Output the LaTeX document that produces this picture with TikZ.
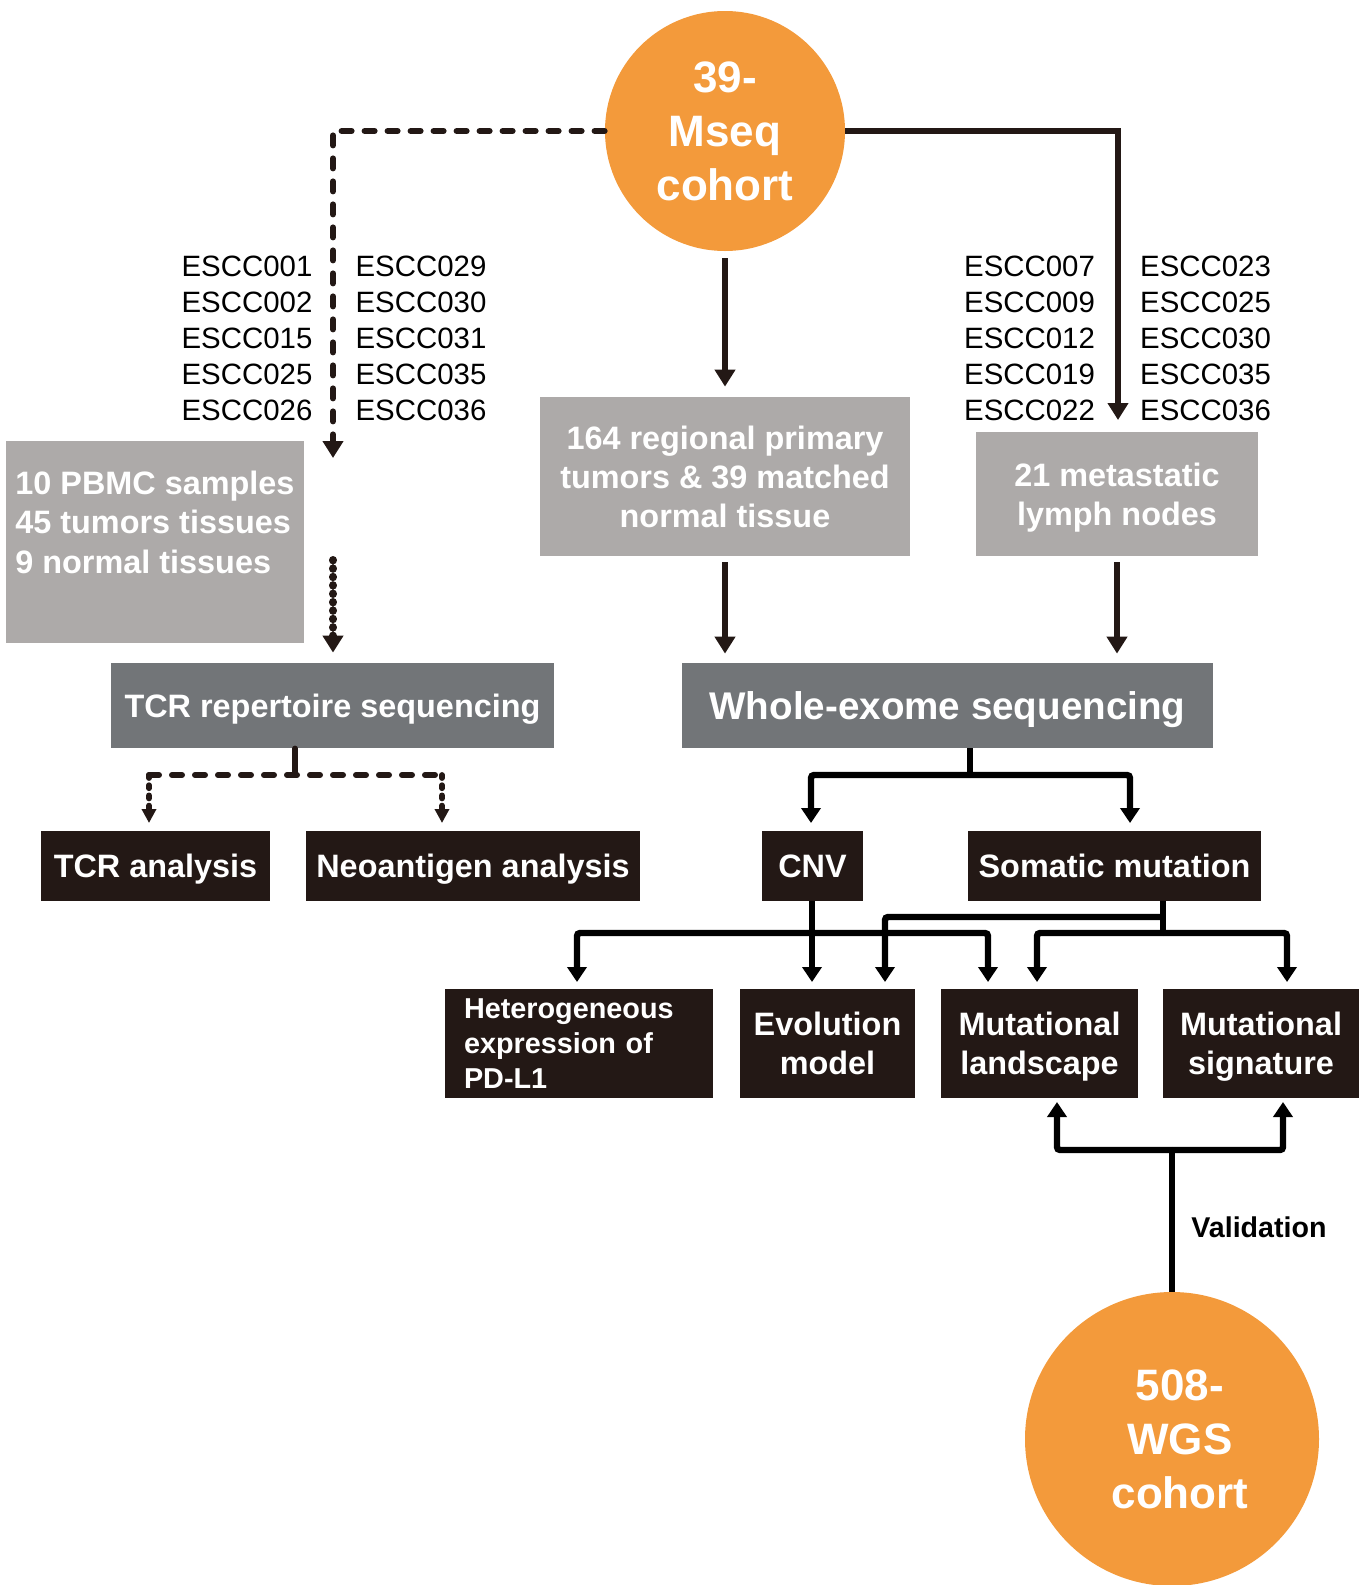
\documentclass[tikz,border=0pt]{standalone}
\usepackage{fontspec}
\setmainfont{Liberation Sans}
\usetikzlibrary{arrows.meta,calc}
\definecolor{orng}{HTML}{F39A3B}
\definecolor{lgray}{HTML}{ADAAA9}
\definecolor{dgray}{HTML}{727578}
\definecolor{dbox}{HTML}{231815}
\definecolor{linec}{HTML}{231815}
\begin{document}
\begin{tikzpicture}[x=0.5pt,y=-0.5pt,
  circ/.style={circle,fill=orng,text=white,inner sep=0pt,align=center,font=\bfseries\fontsize{22}{27}\selectfont},
  lbox/.style={fill=lgray,text=white,inner sep=0pt,align=center,font=\bfseries\fontsize{16.2}{19.6}\selectfont},
  gbox/.style={fill=dgray,text=white,inner sep=0pt,align=center,font=\bfseries\fontsize{16.2}{19.6}\selectfont},
  kbox/.style={fill=dbox,text=white,inner sep=0pt,align=center,font=\bfseries\fontsize{16.2}{19.6}\selectfont},
  oneline/.style={text height=11.6pt,text depth=0pt},
  ids/.style={inner sep=0pt,align=left,font=\fontsize{14.7}{18}\selectfont},
  solA/.style={draw=linec,line width=2.8pt},
  solB/.style={draw=black,line width=3.2pt,rounded corners=1.5pt},
  tipA/.style={-{Triangle[width=10pt,length=8.5pt]}},
  tipB/.style={-{Triangle[width=9.5pt,length=7.5pt]}},
  tipC/.style={-{Triangle[width=7pt,length=7pt]}},
  dashA/.style={draw=linec,line width=3pt,line cap=round,dash pattern=on 5pt off 6.5pt},
  dotA/.style={draw=linec,line width=4pt,line cap=round,dash pattern=on 0.2pt off 4pt},
  dotB/.style={draw=linec,line width=2.9pt,line cap=round,dash pattern=on 1.5pt off 3.6pt},
]
\useasboundingbox (0,0) rectangle (1364,1585);

% nodes
\node[circ,minimum size=120pt] (mseq) at (725,131) {39-\\Mseq\\cohort};
\node[circ,minimum size=147pt] (wgs) at (1172,1439) {};
\node[inner sep=0pt,align=center,text=white,font=\bfseries\fontsize{22}{27}\selectfont] (wgst) at (1180,1439) {508-\\WGS\\cohort};

\node[ids] (esccA) at (247,338) {ESCC001\\ESCC002\\ESCC015\\ESCC025\\ESCC026};
\node[ids] (esccB) at (421,338) {ESCC029\\ESCC030\\ESCC031\\ESCC035\\ESCC036};
\node[ids] (esccC) at (1029.5,338) {ESCC007\\ESCC009\\ESCC012\\ESCC019\\ESCC022};
\node[ids] (esccD) at (1205.5,338) {ESCC023\\ESCC025\\ESCC030\\ESCC035\\ESCC036};

\node[lbox,minimum width=149pt,minimum height=101pt] (pbmc) at (155,542) {};
\node[anchor=west,inner sep=0pt,align=left,text=white,font=\bfseries\fontsize{16.2}{19.75}\selectfont] (pbmct) at (15,522) {10 PBMC samples\\45 tumors tissues\\9 normal tissues};
\node[lbox,minimum width=185pt,minimum height=79.5pt,text depth=0pt] (r164) at (725,476.5) {164 regional primary\\tumors \& 39 matched\\normal tissue};
\node[lbox,minimum width=141pt,minimum height=62pt,text depth=0pt] (r21) at (1117,494) {21 metastatic\\lymph nodes};

\node[gbox,oneline,minimum width=221.5pt,minimum height=42.5pt] (tcr) at (332.5,705.5) {TCR repertoire sequencing};
\node[gbox,minimum width=265.5pt,minimum height=42.5pt,text height=13.8pt,text depth=0pt,font=\bfseries\fontsize{19.3}{23}\selectfont] (wes) at (947.5,705.5) {Whole-exome sequencing};

\node[kbox,oneline,minimum width=114.5pt,minimum height=35pt] (tcra) at (155.5,866) {TCR analysis};
\node[kbox,oneline,minimum width=167pt,minimum height=35pt] (neo) at (473,866) {Neoantigen analysis};
\node[kbox,oneline,minimum width=50.5pt,minimum height=35pt] (cnv) at (812.5,866) {CNV};
\node[kbox,oneline,minimum width=146.5pt,minimum height=35pt] (som) at (1114.5,866) {Somatic mutation};

\node[kbox,minimum width=134pt,minimum height=54.5pt,text width=115pt,align=left,font=\bfseries\fontsize{14.4}{17.5}\selectfont] (het) at (579,1043.5) {Heterogeneous\\expression of\\PD-L1};
\node[kbox,minimum width=87.5pt,minimum height=54.5pt] (evo) at (827.5,1043.5) {Evolution\\model};
\node[kbox,minimum width=98.5pt,minimum height=54.5pt,text depth=0pt] (mland) at (1039.5,1043.5) {Mutational\\landscape};
\node[kbox,minimum width=98pt,minimum height=54.5pt,text depth=0pt] (msig) at (1261,1043.5) {Mutational\\signature};

\node[anchor=west,inner sep=0pt,font=\bfseries\fontsize{14.3}{17}\selectfont] (val) at (1191,1227) {Validation};

% helper coordinates
\coordinate (dtip) at (333,458);
\coordinate (dstart) at (333,560);
\coordinate (rtip) at (1118,420);
\coordinate (tb) at (295,775);
\coordinate (ta) at (149,823);
\coordinate (na) at (442,823);
\coordinate (wb) at (970,775);
\coordinate (ct) at (811,823);
\coordinate (st) at (1130,823);
\coordinate (cb) at (812,933);
\coordinate (hA) at (577,982);
\coordinate (eA) at (812,982);
\coordinate (lA) at (988,982);
\coordinate (sb1) at (1163,917);
\coordinate (sb2) at (1163,933);
\coordinate (e2A) at (885,982);
\coordinate (lB) at (1037,982);
\coordinate (sA) at (1287,982);
\coordinate (vb) at (1172,1150);
\coordinate (vl) at (1057,1102);
\coordinate (vr) at (1283,1102);

% top connectors
\draw[dashA,tipA] (mseq.west) -| (dtip);
\draw[dotA,tipA,shorten >=5pt] (dstart) -- (dstart |- tcr.north);
\draw[solA,tipA] (mseq.east) -| (rtip);
\draw[solA,tipA,shorten <=3.5pt,shorten >=5pt] (mseq.south) -- (r164.north);
\draw[solA,tipA,shorten <=3pt,shorten >=4.5pt] (r164.south) -- (r164.south |- wes.north);
\draw[solA,tipA,shorten <=3pt,shorten >=4.5pt] (r21.south) -- (r21.south |- wes.north);

% TCR branch
\draw[draw=linec,line width=2.8pt,line cap=round] (tcr.south -| tb) -- (tb);
\draw[dashA] (ta |- tb) -- (na |- tb);
\draw[dotB,tipC] (ta |- tb) -- (ta);
\draw[dotB,tipC] (na |- tb) -- (na);

% WES branch
\draw[solB] (wes.south -| wb) -- (wb);
\draw[solB,tipB] (wb) -| (ct);
\draw[solB,tipB] (wb) -| (st);

% CNV branch
\draw[solB,tipB] (cnv.south -| eA) -- (eA);
\draw[solB,tipB] (cb) -| (hA);
\draw[solB,tipB] (cb) -| (lA);

% Somatic branch
\draw[solB] (som.south -| sb1) -- (sb2);
\draw[solB,tipB] (sb1) -| (e2A);
\draw[solB,tipB] (sb2) -| (lB);
\draw[solB,tipB] (sb2) -| (sA);

% Validation
\draw[solB] (wgs.north) -- (vb);
\draw[solB,tipB] (vb) -| (vl);
\draw[solB,tipB] (vb) -| (vr);
\end{tikzpicture}
\end{document}
